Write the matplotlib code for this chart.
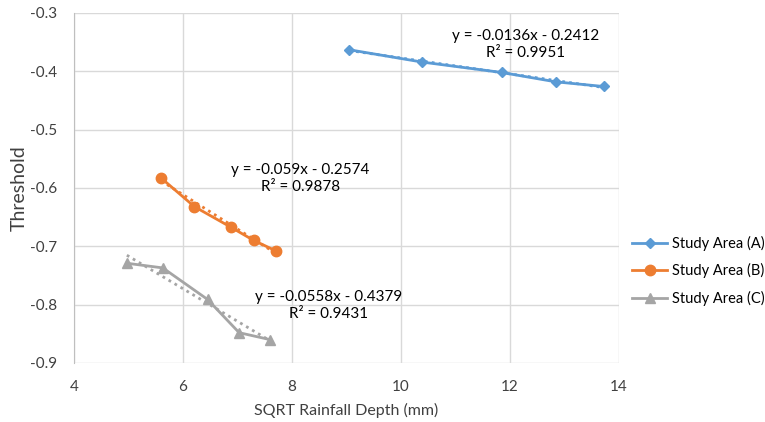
import matplotlib.pyplot as plt

plt.rcParams['font.family'] = ['Lato', 'DejaVu Sans']

# data
x_a = [9.05, 10.38, 11.85, 12.84, 13.72]
y_a = [-0.363, -0.384, -0.402, -0.418, -0.426]
x_b = [5.60, 6.21, 6.875, 7.30, 7.71]
y_b = [-0.583, -0.632, -0.667, -0.690, -0.708]
x_c = [4.97, 5.63, 6.45, 7.03, 7.60]
y_c = [-0.729, -0.737, -0.791, -0.848, -0.860]

# trendline equations shown on the chart
trend_a = (-0.0136, -0.2412, 0.9951)
trend_b = (-0.059, -0.2574, 0.9878)
trend_c = (-0.0558, -0.4379, 0.9431)

labels = ['Study Area (A)', 'Study Area (B)', 'Study Area (C)']
colors = ['#5B9BD5', '#ED7D31', '#A5A5A5']
markers = ['D', 'o', '^']
msizes = [5.5, 7.5, 7.5]

fig = plt.figure(figsize=(7.65, 4.22), dpi=100)
ax = fig.add_axes([74 / 765, 1 - 363 / 422, 545 / 765, 350 / 422])

series = [(x_a, y_a, trend_a), (x_b, y_b, trend_b), (x_c, y_c, trend_c)]
for (xs, ys, tr), lab, col, mk, ms in zip(series, labels, colors, markers, msizes):
    ax.plot(xs, ys, color=col, marker=mk, markersize=ms, linewidth=2, label=lab, zorder=3)
    m, b, r2 = tr
    tx = [xs[0], xs[-1]]
    ax.plot(tx, [m * v + b for v in tx], color=col, linestyle=(0, (1, 1.5)), linewidth=2, zorder=2)

# trendline labels
label_pos = [(12.29, -0.354), (8.15, -0.584), (8.68, -0.802)]
for (x0, y0), tr in zip(label_pos, [trend_a, trend_b, trend_c]):
    m, b, r2 = tr
    ax.text(x0, y0, f'y = {m:g}x - {abs(b):g}\nR² = {r2:g}', ha='center', va='center',
            fontsize=11, linespacing=1.25, color='black')

ax.set_xlim(4, 14)
ax.set_ylim(-0.9, -0.3)
ax.set_xticks(range(4, 15, 2))
ax.set_yticks([-0.9, -0.8, -0.7, -0.6, -0.5, -0.4, -0.3])
ax.set_yticklabels(['-0.9', '-0.8', '-0.7', '-0.6', '-0.5', '-0.4', '-0.3'])
ax.grid(True, color='#D9D9D9', linewidth=1)
ax.set_axisbelow(True)
for s in ['top', 'right', 'bottom']:
    ax.spines[s].set_visible(False)
ax.spines['left'].set_color('#BFBFBF')
ax.tick_params(length=0, labelsize=11, colors='#404040')
ax.tick_params(axis='y', pad=12)
ax.tick_params(axis='x', pad=12)

ax.set_xlabel('SQRT Rainfall Depth (mm)', fontsize=11.5, color='#404040', labelpad=7)
ax.set_ylabel('Threshold', fontsize=14, color='#404040', labelpad=2)

ax.legend(loc='center left', bbox_to_anchor=(1.0, 0.263), frameon=False, fontsize=10.5,
          handlelength=2.4, labelspacing=0.85, handletextpad=0.3, borderpad=0.2,
          borderaxespad=0.7)

fig.savefig('out.png', dpi=100)
